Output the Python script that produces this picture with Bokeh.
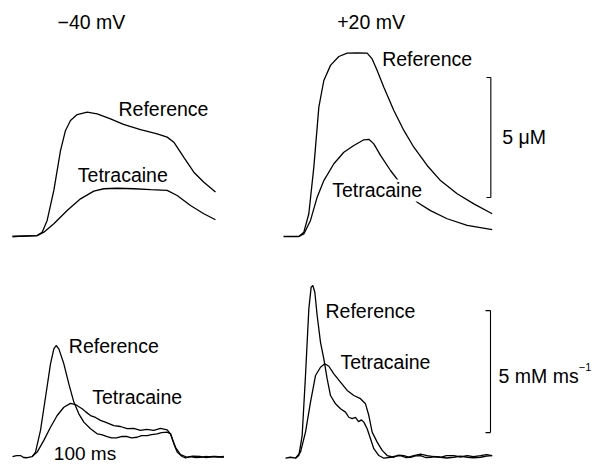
from bokeh.plotting import figure
from bokeh.layouts import gridplot
from bokeh.core.properties import value
from bokeh.embed import file_html
from bokeh.resources import INLINE

# ---------------- data (time in ms, Ca in uM, flux in mM/ms) ----------------
# -40 mV, [Ca2+] transients
t_ca_m40_ref = [0, 37, 44.5, 52, 62, 72, 79.5, 87, 97, 112, 127, 147, 166.5, 192, 217, 232, 242, 257, 272, 287, 304.5]
ca_m40_ref = [0, 0.04, 0.18, 0.67, 1.92, 3.58, 4.42, 4.83, 5.08, 5.18, 5.11, 4.90, 4.67, 4.45, 4.28, 4.14, 3.93, 3.30, 2.68, 2.26, 1.85]
t_ca_m40_tet = [0, 37, 47, 62, 82, 102, 122, 137, 157, 182, 207, 232, 247, 267, 287, 304.5]
ca_m40_tet = [0, 0.04, 0.18, 0.53, 1.08, 1.57, 1.89, 1.99, 2.01, 1.99, 1.95, 1.92, 1.71, 1.29, 0.95, 0.70]

# +20 mV, [Ca2+] transients
t_ca_p20_ref = [0, 23, 30.5, 38, 45.5, 53, 60.5, 70.5, 83, 95.5, 110.5, 125.5, 133, 140.5, 150.5, 165.5, 180.5, 195.5, 215.5, 235.5, 260.5, 285.5, 313]
ca_p20_ref = [0, 0, 0.18, 0.95, 2.89, 5.39, 6.50, 7.13, 7.50, 7.64, 7.65, 7.64, 7.40, 6.92, 6.22, 5.25, 4.42, 3.72, 2.96, 2.33, 1.78, 1.36, 0.95]
t_ca_p20_tet = [23, 30.5, 40.5, 50.5, 60.5, 75.5, 90.5, 105.5, 120.5, 128, 135.5, 145.5, 160.5, 175.5, 200.5, 220.5, 245.5, 275.5, 313]
ca_p20_tet = [0, 0.11, 0.67, 1.64, 2.33, 3.03, 3.51, 3.79, 4.03, 4.05, 3.86, 3.38, 2.75, 2.20, 1.43, 1.08, 0.74, 0.46, 0.29]

# -40 mV, release flux
t_fl_m40_ref = [0, 6, 12, 16.5, 22, 29.5, 34.5, 42, 49.5, 57, 62, 65.5, 69.5, 77, 84.5, 92, 99.5, 107, 117, 127,
                133.5, 142, 148.5, 157, 163.5, 172, 178.5, 187, 193.5, 202, 208.5, 217, 223.5, 232, 237, 242, 247,
                254.5, 259.5, 267, 274.5, 282, 289.5, 297, 304.5, 317]
fl_m40_ref = [0.02, 0.06, 0.06, -0.02, -0.03, 0.02, 0.20, 1.09, 2.45, 3.82, 4.43, 4.57, 4.43, 3.82, 3.00, 2.25, 1.77, 1.43, 1.16, 0.95,
              0.92, 0.84, 0.78, 0.79, 0.84, 0.84, 0.78, 0.81, 0.88, 0.88, 0.92, 0.95, 1.00, 1.02, 0.95, 0.54, 0.20,
              0.02, -0.04, 0.02, -0.02, -0.01, 0.02, 0.0, 0.02, -0.01]
t_fl_m40_tet = [29.5, 37, 47, 57, 67, 77, 87, 94.5, 99, 104.5, 109.5, 117, 124.5, 132, 141, 152, 162, 172, 181.5, 192,
                201, 212, 222, 232, 237, 244.5, 252, 262, 270, 282, 291, 300, 309, 317]
fl_m40_tet = [0.02, 0.20, 0.68, 1.22, 1.70, 2.04, 2.20, 2.15, 2.07, 1.98, 1.86, 1.70, 1.62, 1.50, 1.41, 1.29, 1.25, 1.16, 1.17, 1.09,
              1.13, 1.09, 1.17, 1.11, 0.95, 0.40, 0.10, -0.01, 0.04, 0.02, -0.02, 0.03, 0.0, 0.02]

# +20 mV, release flux
t_fl_p20_ref = [3, 10.5, 18, 23, 28, 33, 38, 41.5, 44, 47, 50.5, 55.5, 60.5, 65.5, 70.5, 78, 85.5, 93, 98, 103, 108, 112.5,
                117, 120.5, 125.5, 130.5, 135.5, 143, 150.5, 160.5, 168, 175.5, 183, 190.5, 198, 205.5, 213, 220.5,
                228, 235.5, 244.5, 255.5, 265.5, 275.5, 285, 295.5, 304.5, 313]
fl_p20_ref = [-0.05, -0.01, -0.05, 0.06, 0.88, 3.34, 6.07, 6.96, 7.03, 6.75, 5.80, 4.70, 4.02, 3.20, 2.52, 2.18, 1.98, 1.84, 1.63, 1.57, 1.62, 1.45,
              1.52, 1.43, 1.16, 0.75, 0.34, 0.06, -0.05, -0.01, 0.04, 0.06, -0.02, -0.01, 0.05, 0.06, -0.02, -0.01,
              0.02, -0.01, -0.04, -0.01, 0.04, -0.01, -0.03, -0.01, 0.04, 0.06]
t_fl_p20_tet = [18, 25.5, 33, 40.5, 48, 55.5, 62, 68, 75.5, 85.5, 95.5, 105.5, 115.5, 123, 128, 133, 140.5, 148, 155.5,
                165.5, 172.5, 180.5, 187.5, 195.5, 205.5, 215.5, 225, 235.5, 244.5, 255.5, 265.5, 275.5, 285, 295.5, 304.5, 313]
fl_p20_tet = [-0.05, 0.20, 1.02, 2.25, 3.34, 3.68, 3.82, 3.72, 3.41, 3.07, 2.73, 2.52, 2.39, 2.18, 1.70, 1.02, 0.61, 0.27, 0.06,
              -0.01, 0.08, 0.06, 0.0, 0.06, 0.12, 0.06, 0.02, -0.01, 0.06, 0.06, 0.0, 0.06, 0.02, 0.06, 0.10, 0.06]

ca_bar = [1.625, 6.625]     # 5 uM
flux_bar = [1.0, 6.0]       # 5 mM/ms

FONT = value("Liberation Sans")
FS = "19.5px"
LW = 1.3


def make_fig(w, h, xr, yr):
    p = figure(width=w, height=h, x_range=xr, y_range=yr, output_backend="svg",
               toolbar_location=None, min_border=0, x_axis_location=None, y_axis_location=None)
    p.grid.visible = False
    p.outline_line_color = None
    p.background_fill_color = "white"
    p.border_fill_color = "white"
    return p


def label(p, x, y, txt, size=FS, bg=None):
    kw = {}
    if bg:
        kw = dict(background_fill_color=bg, padding=0)
    p.text(x=[x], y=[y], text=[txt], text_font=FONT, text_font_size=size,
           text_baseline="middle", text_align="left", text_color="black", **kw)


# top-left
p1 = make_fig(280, 250, (-18, 402), (-0.583, 9.833))
p1.line(t_ca_m40_ref, ca_m40_ref, line_color="black", line_width=LW)
p1.line(t_ca_m40_tet, ca_m40_tet, line_color="black", line_width=LW)
label(p1, 67.5, 8.92, "\u221240 mV")
label(p1, 159, 5.33, "Reference")
label(p1, 98, 2.58, "Tetracaine")

# top-right
p2 = make_fig(318, 250, (-4.5, 472.5), (-0.583, 9.833))
p2.line(t_ca_p20_ref, ca_p20_ref, line_color="black", line_width=LW)
p2.line(t_ca_p20_tet, ca_p20_tet, line_color="black", line_width=LW)
p2.segment(x0=[311, 304.5, 304.5], y0=[ca_bar[0], ca_bar[0], ca_bar[1]],
           x1=[311, 311, 311], y1=[ca_bar[1], ca_bar[0], ca_bar[1]], line_color="black", line_width=1.1)
label(p2, 80.5, 8.92, "+20 mV")
label(p2, 148, 7.40, "Reference")
label(p2, 73, 1.92, "Tetracaine", bg="white")
label(p2, 328, 4.14, "5 \u03bcM")

# bottom-left
p3 = make_fig(280, 216, (-18, 402), (-0.389, 8.463))
p3.line(t_fl_m40_ref, fl_m40_ref, line_color="black", line_width=LW)
p3.line(t_fl_m40_tet, fl_m40_tet, line_color="black", line_width=LW)
label(p3, 84.5, 4.53, "Reference")
label(p3, 119.5, 2.45, "Tetracaine")
label(p3, 62, 0.16, "100 ms", size="19px")

# bottom-right
p4 = make_fig(318, 216, (-4.5, 472.5), (-0.389, 8.463))
p4.line(t_fl_p20_ref, fl_p20_ref, line_color="black", line_width=LW)
p4.line(t_fl_p20_tet, fl_p20_tet, line_color="black", line_width=LW)
p4.segment(x0=[310.5, 303, 303], y0=[flux_bar[0], flux_bar[0], flux_bar[1]],
           x1=[310.5, 310.5, 310.5], y1=[flux_bar[1], flux_bar[0], flux_bar[1]], line_color="black", line_width=1.1)
label(p4, 63, 5.98, "Reference")
label(p4, 85.5, 3.89, "Tetracaine")
label(p4, 322.5, 3.34, "5 mM ms")
label(p4, 443, 3.70, "\u22121", size="11px")

grid = gridplot([[p1, p2], [p3, p4]], toolbar_location=None)

with open("out.html", "w") as f:
    f.write(file_html(grid, INLINE))
